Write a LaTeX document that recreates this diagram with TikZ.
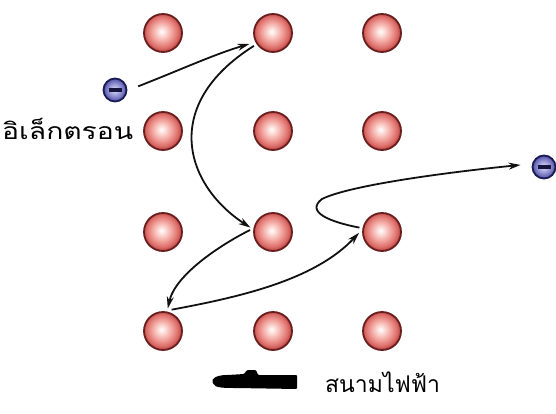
\documentclass[tikz,border=0pt]{standalone}
\usepackage{fontspec}
\newfontfamily\thaifont[Script=Thai]{Loma}
\usetikzlibrary{arrows.meta}

\definecolor{atomEdge}{HTML}{6A1E1E}
\definecolor{atomA}{HTML}{FCDCD8}
\definecolor{atomB}{HTML}{F2A49E}
\definecolor{atomC}{HTML}{DC6C68}
\definecolor{atomD}{HTML}{B94844}
\definecolor{elEdge}{HTML}{1A1A54}
\definecolor{elA}{HTML}{E0E0FA}
\definecolor{elB}{HTML}{9C9CDA}
\definecolor{elC}{HTML}{4E4EA4}
\definecolor{elBar}{HTML}{14143C}
\definecolor{pathCol}{HTML}{111111}

% soft red glow for the lattice ions
\pgfdeclareradialshading{ionshade}{\pgfpoint{-2bp}{2bp}}{%
  color(0bp)=(white); color(5bp)=(atomA); color(13bp)=(atomB);
  color(21bp)=(atomC); color(25bp)=(atomD); color(50bp)=(atomD)}
% bluish glow for the electrons
\pgfdeclareradialshading{elshade}{\pgfpoint{-1bp}{1bp}}{%
  color(0bp)=(elA); color(12bp)=(elB); color(25bp)=(elC); color(50bp)=(elC)}

\begin{document}
\begin{tikzpicture}[x=1pt,y=-1pt,
  ion/.style={circle, minimum size=38pt, inner sep=0pt, outer sep=4pt,
    draw=atomEdge, line width=1.8pt, shading=ionshade},
  electron/.style={circle, minimum size=23pt, inner sep=0pt, outer sep=12pt,
    draw=elEdge, line width=1.8pt, shading=elshade},
  hop/.style={draw=pathCol, line width=1.8pt,
    -{Stealth[length=12pt,width=7pt]}},
  thailabel/.style={inner sep=0pt, font=\thaifont\fontsize{23}{26}\selectfont}]

\useasboundingbox (0,0) rectangle (556,414);
\fill[white] (0,0) rectangle (556,414);

% lattice of ions
\foreach \r/\y in {1/33, 2/131, 3/232, 4/331}
  \foreach \c/\x in {1/163, 2/273, 3/382}
    \node[ion] (a\r\c) at (\x,\y) {};

% incoming and outgoing electrons
\node[electron] (eL) at (115,90) {\color{elBar}\rule[-1.6pt]{13pt}{3.2pt}};
\node[electron] (eR) at (544,167) {\color{elBar}\rule[-1.6pt]{13pt}{3.2pt}};

% zig-zag path of the electron through the lattice
\draw[hop, shorten >=3pt] (eL.9) .. controls (180,70) and (215,54) .. (a12.206);
\draw[hop] (a12.214) .. controls (160,105) and (185,185) .. (a32.169);
\draw[hop] (a32.175) .. controls (220,245) and (175,275) .. (a41.78);
\draw[hop] (a41.68) .. controls (240,297) and (315,280) .. (a33.182);
\draw[hop] (a33.169) .. controls (330,222) and (305,212) .. (322,199)
  .. controls (350,185) and (450,172) .. (eR.175);

% labels
\node[thailabel, anchor=base west, xscale=1.23] (lblE) at (2,140) {อิเล็กตรอน};

% field direction marker
\fill[black, rounded corners=1pt] (297,375) -- (258,375) -- (256,370) -- (247,370)
  -- (244,374) -- (228,375) .. controls (216,375) and (211,379) .. (213,383)
  .. controls (215,388) and (225,388) .. (236,388) -- (297,389) -- cycle;
\node[thailabel, anchor=base west] (lblF) at (325,392) {สนามไฟฟ้า};
\end{tikzpicture}
\end{document}
